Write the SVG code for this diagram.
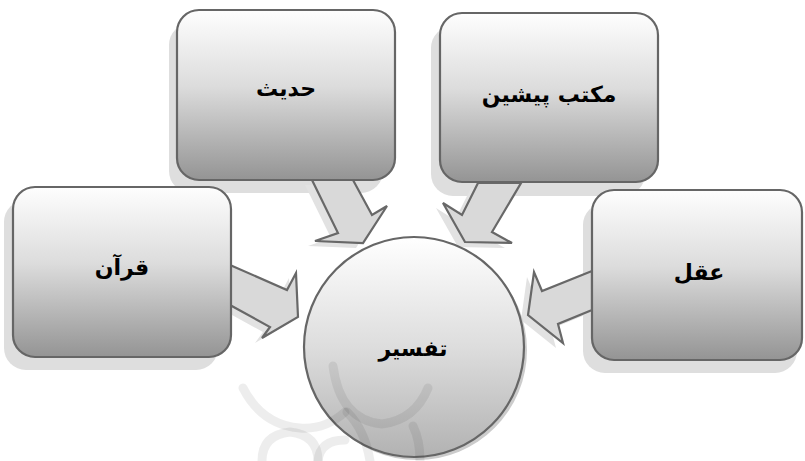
<svg xmlns="http://www.w3.org/2000/svg" width="805" height="461" viewBox="0 0 805 461">
  <defs>
    <linearGradient id="boxGrad" x1="0" y1="0" x2="0" y2="1">
      <stop offset="0" stop-color="#fefefe"/>
      <stop offset="0.45" stop-color="#dcdcdc"/>
      <stop offset="1" stop-color="#949494"/>
    </linearGradient>
    <linearGradient id="circGrad" x1="0" y1="0" x2="0" y2="1">
      <stop offset="0" stop-color="#ffffff"/>
      <stop offset="0.5" stop-color="#dddddd"/>
      <stop offset="1" stop-color="#b2b2b2"/>
    </linearGradient>
    <style>
      .box { fill: url(#boxGrad); stroke: #666666; stroke-width: 2.2; }
      .boxShadow { fill: #dedede; }
      .arrow { fill: #d9d9d9; stroke: #686868; stroke-width: 2.2; stroke-linejoin: miter; }
      .arrowShadow { fill: #e2e2e2; }
      .label { font-family: "DejaVu Sans", "Noto Sans", sans-serif; font-weight: bold; font-size: 22px; fill: #000000; text-anchor: middle; dominant-baseline: central; }
      .wm { fill: none; stroke: #000000; stroke-opacity: 0.07; stroke-width: 9; stroke-linecap: round; }
    </style>
  </defs>

  <rect width="805" height="461" fill="#ffffff"/>

  <!-- box shadows -->
  <g id="shadows">
    <rect class="boxShadow" x="4" y="200" width="214" height="170" rx="22"/>
    <rect class="boxShadow" x="169" y="23" width="214" height="170" rx="22"/>
    <rect class="boxShadow" x="431" y="26" width="214" height="170" rx="22"/>
    <rect class="boxShadow" x="583" y="203" width="214" height="170" rx="22"/>
  </g>

  <!-- connectors -->
  <g id="connectors">
    <g transform="translate(-7,5)">
      <polygon class="arrowShadow" points="230,265 287,290 296,273 298,317 262,338 270,327 230,305"/>
      <polygon class="arrowShadow" points="312,180 338,233 315,241 363,243 387,206 372,215 353,180"/>
      <polygon class="arrowShadow" points="478,183 462,215 443,203 465,242 512,243 492,232 521,183"/>
      <polygon class="arrowShadow" points="592,271 542,291 534,272 528,315 563,343 558,324 592,310"/>
    </g>
    <polygon id="arrow-quran" class="arrow" points="230,265 287,290 296,273 298,317 262,338 270,327 230,305"/>
    <polygon id="arrow-hadith" class="arrow" points="312,180 338,233 315,241 363,243 387,206 372,215 353,180"/>
    <polygon id="arrow-maktab" class="arrow" points="478,183 462,215 443,203 465,242 512,243 492,232 521,183"/>
    <polygon id="arrow-aql" class="arrow" points="592,271 542,291 534,272 528,315 563,343 558,324 592,310"/>
  </g>

  <!-- center node -->
  <g id="node-tafsir">
    <circle cx="417" cy="350" r="110" fill="#cccccc"/>
    <circle cx="414" cy="347" r="110" fill="url(#circGrad)" stroke="#666666" stroke-width="2.2"/>
    <text class="label" x="413" y="348">تفسیر</text>
  </g>

  <g id="node-quran">
    <rect class="box" x="13" y="187" width="218" height="170" rx="22"/>
    <text class="label" x="122" y="267">قرآن</text>
  </g>

  <g id="node-hadith">
    <rect class="box" x="177" y="10" width="218" height="170" rx="22"/>
    <text class="label" x="286" y="88">حدیث</text>
  </g>

  <g id="node-maktab">
    <rect class="box" x="440" y="13" width="218" height="169" rx="22"/>
    <text class="label" x="549" y="94">مکتب پیشین</text>
  </g>

  <g id="node-aql">
    <rect class="box" x="592" y="190" width="210" height="170" rx="22"/>
    <text class="label" x="699" y="272">عقل</text>
  </g>

  <!-- faint watermark ornament -->
  <g id="watermark">
    <path class="wm" d="M333,366 Q340,420 382,424 Q415,420 428,388"/>
    <path class="wm" d="M347,412 Q365,430 370,461"/>
    <path class="wm" d="M413,426 Q420,440 420,461"/>
    <path class="wm" d="M243,388 Q262,425 300,428 Q325,430 345,412"/>
    <path class="wm" d="M262,461 Q262,435 290,432 Q318,435 318,461"/>
    <path class="wm" d="M318,461 Q320,440 345,440"/>
  </g>
</svg>
